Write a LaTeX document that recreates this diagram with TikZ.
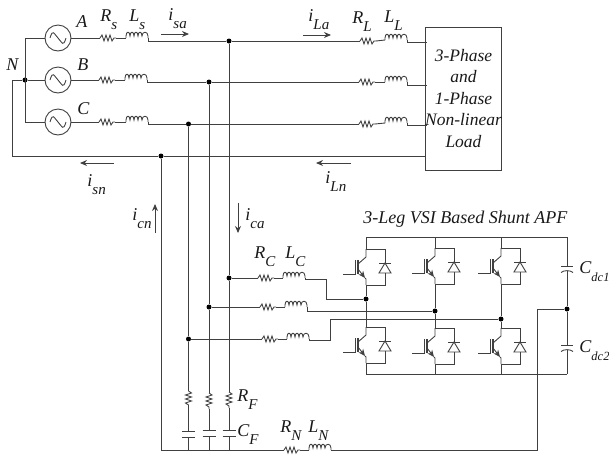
\documentclass[tikz,border=0pt]{standalone}
\usepackage{fontspec}
\setmainfont{Liberation Serif}
\usetikzlibrary{arrows.meta}
\newcommand{\sublab}[3][8]{#2\raisebox{-#1pt}{\fontsize{15}{15}\selectfont #3}}
\begin{document}
\begin{tikzpicture}
            [
                x = 1pt, y = -1pt,
                every path/.style = {color=black!75, line width=0.9pt},
                every node/.style = {text=black!90},
                lab/.style = {anchor=base west, inner sep=0pt, font=\fontsize{18}{18}\selectfont\itshape},
                txt/.style = {font=\fontsize{17.5}{21.5}\selectfont\itshape, align=center},
                dot/.style = {circle, fill=black, inner sep=0pt, minimum size=5pt},
                acsrc/.style = {circle, draw, inner sep=0pt, minimum size=26pt,
                    path picture={\draw ([xshift=-8pt]path picture bounding box.center)
                        .. controls +(3,-10) and +(-4,-4) .. (path picture bounding box.center)
                        .. controls +(4,4) and +(-3,10) .. ([xshift=8pt]path picture bounding box.center);}},
                flow/.style = {-{Stealth[length=7pt,width=6pt]}},
                res/.pic = {
                    \coordinate (-in) at (0,0);
                    \coordinate (-out) at (16,0);
                    \draw (-in) -- (2,-3) -- (4,3) -- (6,-3) -- (8,3) -- (10,-3) -- (12,3) -- (14,0) -- (-out);
                },
                ind/.pic = {
                    \coordinate (-in) at (0,0);
                    \coordinate (-out) at (22,0);
                    \draw (-in) -- (0,-2) .. controls (0,-7) and (4,-7) .. (4,-2)
                        .. controls (4,-7) and (8,-7) .. (8,-2)
                        .. controls (8,-7) and (12,-7) .. (12,-2)
                        .. controls (12,-7) and (16,-7) .. (16,-2)
                        .. controls (16,-7) and (22,-7) .. (22,-2) -- (-out);
                },
                capa/.pic = {
                    \coordinate (-in) at (0,0);
                    \coordinate (-out) at (0,6);
                    \draw (-6.5,0) -- (6.5,0);
                    \draw (-6.5,6) -- (6.5,6);
                },
                capdc/.pic = {
                    \coordinate (-in) at (0,0);
                    \coordinate (-out) at (0,4.5);
                    \draw (-6,0) -- (6,0);
                    \draw (-6,6.5) .. controls (-3,4) and (3,4) .. (6,6.5);
                },
                igbt/.pic = {
                    \coordinate (-c) at (0,-18);
                    \coordinate (-e) at (0,18);
                    \draw (-c) -- (0,-10) -- (-8,-3);
                    \draw[flow] (-8,2) -- (-1,11);
                    \draw (-1,11) -- (0,12) -- (-e);
                    \draw[line width=1.2pt] (-8,-7) -- (-8,7);
                    \draw (-11,-7) -- (-11,7) -- (-23,7);
                    \draw (-c) -- (19,-18) -- (19,-4);
                    \draw (13,-4) -- (25,-4);
                    \draw (19,-4) -- (13,6) -- (25,6) -- cycle;
                    \draw (19,6) -- (19,18) -- (-e);
                }
            ]
            \useasboundingbox (0,0) rectangle (609,459);

            \node[acsrc] (srcA) at (58,38) {};
            \node[acsrc] (srcB) at (58,80) {};
            \node[acsrc] (srcC) at (58,122) {};
            \node[dot] (nN) at (25,80) {};
            \coordinate (nA) at (25,38);
            \coordinate (nC) at (25,122);
            \coordinate (neuL) at (12,80);
            \coordinate (neuB) at (12,156);
            \draw (srcA) -- (nA) -- (nC) -- (srcC);
            \draw (srcB) -- (nN) -- (neuL) -- (neuB);

            \node[draw, txt, minimum width=73pt, minimum height=143pt, inner sep=0pt] (load) at (463.5,98.5)
                {3-Phase\\and\\1-Phase\\Non-linear\\Load};
            \coordinate (la) at (427,42);
            \coordinate (lb) at (427,85);
            \coordinate (lc) at (427,125);

            \pic (rsa) at (100,38) {res};
            \pic (lsa) at (126,38) {ind};
            \pic (rsb) at (99,80) {res};
            \pic (lsb) at (125,80) {ind};
            \pic (rsc) at (99,122) {res};
            \pic (lsc) at (126,122) {ind};
            \pic (rla) at (360,41) {res};
            \pic (lla) at (385,40) {ind};
            \pic (rlb) at (359,82) {res};
            \pic (llb) at (385,82) {ind};
            \pic (rlc) at (359,124) {res};
            \pic (llc) at (385,123) {ind};

            \node[dot] (ja) at (229,41) {};
            \node[dot] (jb) at (209,82) {};
            \node[dot] (jc) at (188.5,124) {};
            \node[dot] (jn) at (161,156) {};

            \draw (srcA) -- (rsa-in);
            \draw (rsa-out) -- (lsa-in);
            \draw (lsa-out) |- (ja);
            \draw (ja) -- (rla-in);
            \draw (rla-out) -- (lla-in);
            \draw (lla-out) |- (la);
            \draw (srcB) -- (rsb-in);
            \draw (rsb-out) -- (lsb-in);
            \draw (lsb-out) |- (jb);
            \draw (jb) -- (rlb-in);
            \draw (rlb-out) -- (llb-in);
            \draw (llb-out) |- (lb);
            \draw (srcC) -- (rsc-in);
            \draw (rsc-out) -- (lsc-in);
            \draw (lsc-out) |- (jc);
            \draw (jc) -- (rlc-in);
            \draw (rlc-out) -- (llc-in);
            \draw (llc-out) |- (lc);
            \draw (neuB) -- (jn) -- (neuB -| load.west);

            \node[dot] (ca) at (229,278) {};
            \node[dot] (cb) at (209,307) {};
            \node[dot] (cc) at (188.5,339) {};
            \pic (rca) at (258,278) {res};
            \pic (lca) at (283,278) {ind};
            \pic (rcb) at (260,307) {res};
            \pic (lcb) at (285,307) {ind};
            \pic (rcc) at (262,339) {res};
            \pic (lcc) at (287,339) {ind};
            \pic[rotate=-90] (rfa) at (229,392) {res};
            \pic[rotate=-90] (rfb) at (209,393) {res};
            \pic[rotate=-90] (rfc) at (188.5,391) {res};
            \pic (cfa) at (229,430) {capa};
            \pic (cfb) at (209,430) {capa};
            \pic (cfc) at (188.5,431) {capa};
            \coordinate (gna) at (229,450);
            \coordinate (gnb) at (209,450);
            \coordinate (gnc) at (188.5,450);
            \coordinate (gnl) at (161,450);
            \pic (rn) at (284,450) {res};
            \pic (ln) at (309,450) {ind};

            \draw (ja) -- (ca) -- (rfa-in);
            \draw (rfa-out) -- (cfa-in);
            \draw (cfa-out) -- (gna);
            \draw (jb) -- (cb) -- (rfb-in);
            \draw (rfb-out) -- (cfb-in);
            \draw (cfb-out) -- (gnb);
            \draw (jc) -- (cc) -- (rfc-in);
            \draw (rfc-out) -- (cfc-in);
            \draw (cfc-out) -- (gnc);
            \draw (jn) -- (gnl) -- (rn-in);
            \draw (rn-out) -- (ln-in);

            \draw (ca) -- (rca-in);
            \draw (rca-out) -- (lca-in);
            \draw (cb) -- (rcb-in);
            \draw (rcb-out) -- (lcb-in);
            \draw (cc) -- (rcc-in);
            \draw (rcc-out) -- (lcc-in);

            \pic (ig1) at (366,267) {igbt};
            \pic (ig2) at (435,266) {igbt};
            \pic (ig3) at (501,266) {igbt};
            \pic (ig4) at (366,345) {igbt};
            \pic (ig5) at (435,346) {igbt};
            \pic (ig6) at (501,346) {igbt};
            \node[dot] (u) at (366,299) {};
            \node[dot] (v) at (435,311) {};
            \node[dot] (w) at (501,319) {};
            \coordinate (top1) at (366,237);
            \coordinate (top2) at (435,237);
            \coordinate (top3) at (501,237);
            \coordinate (topr) at (567,237);
            \coordinate (bot1) at (366,374);
            \coordinate (bot2) at (435,374);
            \coordinate (bot3) at (501,374);
            \coordinate (botr) at (567,374);
            \draw (top1) -- (topr);
            \draw (bot1) -- (botr);
            \draw (top1) -- (ig1-c);
            \draw (top2) -- (ig2-c);
            \draw (top3) -- (ig3-c);
            \draw (ig1-e) -- (u) -- (ig4-c);
            \draw (ig2-e) -- (v) -- (ig5-c);
            \draw (ig3-e) -- (w) -- (ig6-c);
            \draw (ig4-e) -- (bot1);
            \draw (ig5-e) -- (bot2);
            \draw (ig6-e) -- (bot3);

            \coordinate (ua) at (326,279);
            \coordinate (ub) at (326,299);
            \coordinate (wa) at (330,340);
            \coordinate (wb) at (330,319);
            \draw (lca-out) |- (ua) -- (ub) -- (u);
            \draw (lcb-out) |- (v);
            \draw (lcc-out) |- (wa) -- (wb) -- (w);

            \pic (cd1) at (567,266) {capdc};
            \pic (cd2) at (567,345) {capdc};
            \node[dot] (mid) at (567,309) {};
            \coordinate (mida) at (537,309);
            \coordinate (midb) at (537,450);
            \draw (topr) -- (cd1-in);
            \draw (cd1-out) -- (mid) -- (cd2-in);
            \draw (cd2-out) -- (botr);
            \draw (mid) -- (mida) -- (midb) -- (ln-out);

            \coordinate (isaA) at (161,34);
            \coordinate (isaB) at (189,34);
            \coordinate (isnA) at (114,163);
            \coordinate (isnB) at (80,163);
            \coordinate (ilaA) at (303,35);
            \coordinate (ilaB) at (331,35);
            \coordinate (ilnA) at (351,163);
            \coordinate (ilnB) at (316,163);
            \coordinate (icaA) at (238,203);
            \coordinate (icaB) at (238,233);
            \coordinate (icnA) at (155,233);
            \coordinate (icnB) at (155,204);
            \draw[flow] (isaA) -- (isaB);
            \draw[flow] (isnA) -- (isnB);
            \draw[flow] (ilaA) -- (ilaB);
            \draw[flow] (ilnA) -- (ilnB);
            \draw[flow] (icaA) -- (icaB);
            \draw[flow] (icnA) -- (icnB);

            \node[lab] (tA) at (76,27) {A};
            \node[lab] (tB) at (77,70) {B};
            \node[lab] (tC) at (77,114) {C};
            \node[lab] (tN) at (6,70) {N};
            \node[lab] (tRs) at (100,21) {\sublab{R}{s}};
            \node[lab] (tLs) at (129,21) {\sublab{L}{s}};
            \node[lab] (tisa) at (168,20) {\sublab{i}{sa}};
            \node[lab] (tisn) at (87,186) {\sublab{i}{sn}};
            \node[lab] (tila) at (308,21) {\sublab{i}{La}};
            \node[lab] (tRl) at (352,23) {\sublab{R}{L}};
            \node[lab] (tLl) at (384,22) {\sublab{L}{L}};
            \node[lab] (tiln) at (325,183) {\sublab{i}{Ln}};
            \node[lab] (tica) at (245,220) {\sublab{i}{ca}};
            \node[lab] (ticn) at (132,220) {\sublab{i}{cn}};
            \node[lab] (tRc) at (254,258) {\sublab{R}{C}};
            \node[lab] (tLc) at (285,258) {\sublab{L}{C}};
            \node[lab] (tRf) at (237,401) {\sublab{R}{F}};
            \node[lab] (tCf) at (237,436) {\sublab{C}{F}};
            \node[lab] (tRn) at (280,432) {\sublab{R}{N}};
            \node[lab] (tLn) at (308,432) {\sublab{L}{N}};
            \node[lab] (tCa) at (579,273) {\sublab{C}{\fontsize{12.5}{12.5}\selectfont dc1}};
            \node[lab] (tCb) at (579,352) {\sublab{C}{\fontsize{12.5}{12.5}\selectfont dc2}};
            \node[lab] (tvsi) at (363,223) {3-Leg VSI Based Shunt APF};
        \end{tikzpicture}
\end{document}
